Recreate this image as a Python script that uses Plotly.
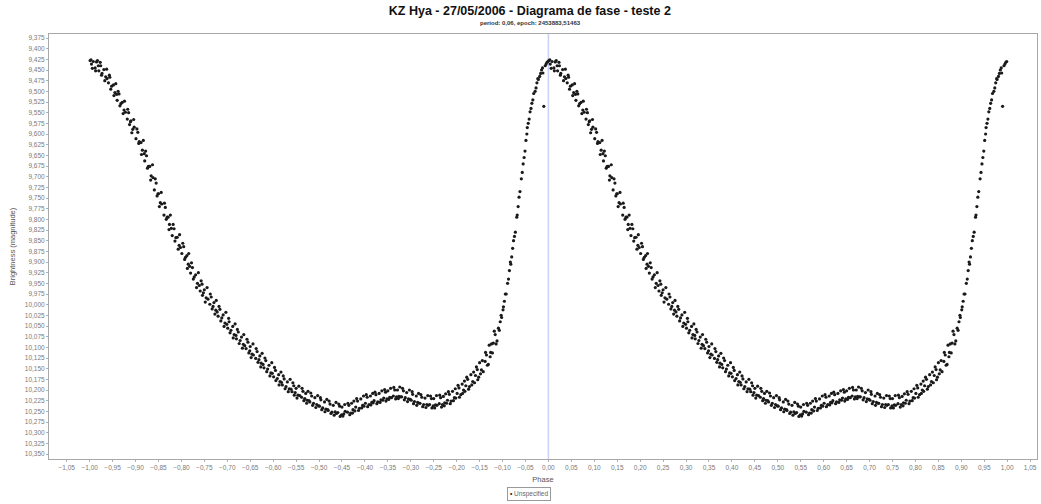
import plotly.graph_objects as go

TITLE = "KZ Hya - 27/05/2006 - Diagrama de fase - teste 2"
SUBTITLE = "period: 0,06, epoch: 2453883,51463"
X_LABEL = "Phase"
Y_LABEL = "Brightness (magnitude)"
SERIES_NAME = "Unspecified"

# one folded cycle (phase 0..1)
PHASE = [
    0.001, 0.004, 0.008, 0.012, 0.015, 0.019, 0.020, 0.024, 0.027, 0.031, 0.035, 0.038, 0.041, 0.044, 0.048,
    0.052, 0.055, 0.059, 0.060, 0.064, 0.068, 0.071, 0.075, 0.078, 0.082, 0.085, 0.089, 0.090, 0.094, 0.097,
    0.101, 0.105, 0.108, 0.112, 0.115, 0.119, 0.120, 0.124, 0.128, 0.131, 0.134, 0.138, 0.141, 0.145, 0.149,
    0.150, 0.154, 0.157, 0.162, 0.165, 0.169, 0.171, 0.174, 0.178, 0.180, 0.184, 0.188, 0.191, 0.195, 0.198,
    0.201, 0.205, 0.209, 0.212, 0.215, 0.218, 0.220, 0.224, 0.228, 0.231, 0.235, 0.239, 0.241, 0.245, 0.248,
    0.250, 0.254, 0.258, 0.262, 0.265, 0.269, 0.271, 0.275, 0.278, 0.280, 0.284, 0.288, 0.291, 0.295, 0.299,
    0.301, 0.304, 0.308, 0.312, 0.315, 0.319, 0.320, 0.324, 0.328, 0.331, 0.335, 0.338, 0.341, 0.345, 0.349,
    0.350, 0.354, 0.357, 0.362, 0.365, 0.369, 0.371, 0.374, 0.378, 0.380, 0.384, 0.388, 0.391, 0.395, 0.398,
    0.401, 0.405, 0.409, 0.412, 0.415, 0.418, 0.420, 0.424, 0.428, 0.431, 0.435, 0.439, 0.441, 0.445, 0.448,
    0.450, 0.454, 0.458, 0.462, 0.465, 0.469, 0.471, 0.474, 0.478, 0.480, 0.484, 0.488, 0.491, 0.495, 0.499,
    0.501, 0.504, 0.508, 0.512, 0.515, 0.519, 0.520, 0.524, 0.528, 0.531, 0.535, 0.538, 0.541, 0.545, 0.549,
    0.550, 0.554, 0.557, 0.562, 0.565, 0.569, 0.571, 0.574, 0.578, 0.580, 0.584, 0.588, 0.591, 0.595, 0.598,
    0.601, 0.605, 0.609, 0.612, 0.615, 0.618, 0.620, 0.624, 0.628, 0.631, 0.635, 0.639, 0.641, 0.645, 0.648,
    0.650, 0.654, 0.658, 0.662, 0.665, 0.669, 0.671, 0.674, 0.678, 0.680, 0.684, 0.688, 0.691, 0.695, 0.699,
    0.701, 0.704, 0.708, 0.712, 0.715, 0.719, 0.720, 0.724, 0.728, 0.731, 0.735, 0.738, 0.741, 0.745, 0.749,
    0.750, 0.754, 0.757, 0.762, 0.765, 0.769, 0.771, 0.774, 0.778, 0.780, 0.784, 0.788, 0.791, 0.795, 0.798,
    0.801, 0.805, 0.809, 0.812, 0.815, 0.818, 0.820, 0.824, 0.828, 0.831, 0.835, 0.839, 0.841, 0.845, 0.848,
    0.850, 0.854, 0.858, 0.862, 0.865, 0.869, 0.871, 0.874, 0.878, 0.880, 0.884, 0.888, 0.891, 0.895, 0.898,
    0.901, 0.904, 0.908, 0.911, 0.915, 0.918, 0.920, 0.924, 0.928, 0.931, 0.934, 0.938, 0.941, 0.945, 0.949,
    0.951, 0.954, 0.958, 0.960, 0.964, 0.968, 0.971, 0.975, 0.978, 0.981, 0.985, 0.988, 0.990, 0.993, 0.997,
]

MAG = [
    9.428, 9.436, 9.430, 9.445, 9.431, 9.440, 9.452, 9.440, 9.458, 9.449, 9.466, 9.470, 9.480, 9.467, 9.488,
    9.485, 9.503, 9.507, 9.521, 9.506, 9.529, 9.526, 9.544, 9.549, 9.565, 9.550, 9.571, 9.569, 9.589, 9.584,
    9.611, 9.596, 9.618, 9.620, 9.638, 9.646, 9.663, 9.651, 9.676, 9.676, 9.698, 9.702, 9.731, 9.715, 9.740,
    9.740, 9.761, 9.764, 9.790, 9.772, 9.795, 9.795, 9.812, 9.821, 9.838, 9.822, 9.843, 9.842, 9.861, 9.866,
    9.880, 9.864, 9.889, 9.885, 9.905, 9.910, 9.926, 9.913, 9.935, 9.930, 9.950, 9.955, 9.968, 9.952, 9.972,
    9.965, 9.984, 9.987, 9.999, 9.982, 10.004, 9.995, 10.013, 10.017, 10.027, 10.011, 10.031, 10.024, 10.043, 10.046,
    10.055, 10.040, 10.060, 10.051, 10.070, 10.072, 10.080, 10.064, 10.084, 10.076, 10.093, 10.096, 10.103, 10.088, 10.108,
    10.098, 10.116, 10.118, 10.126, 10.110, 10.129, 10.120, 10.137, 10.140, 10.148, 10.131, 10.151, 10.142, 10.160, 10.161,
    10.169, 10.154, 10.173, 10.164, 10.180, 10.182, 10.188, 10.174, 10.192, 10.181, 10.197, 10.198, 10.204, 10.190, 10.206,
    10.196, 10.212, 10.213, 10.217, 10.203, 10.220, 10.208, 10.224, 10.225, 10.228, 10.214, 10.231, 10.218, 10.234, 10.237,
    10.238, 10.223, 10.242, 10.228, 10.245, 10.246, 10.248, 10.233, 10.252, 10.236, 10.251, 10.255, 10.253, 10.238, 10.258,
    10.240, 10.256, 10.250, 10.252, 10.236, 10.254, 10.231, 10.246, 10.249, 10.240, 10.226, 10.243, 10.221, 10.236, 10.238,
    10.231, 10.217, 10.234, 10.214, 10.229, 10.230, 10.225, 10.211, 10.228, 10.208, 10.223, 10.224, 10.219, 10.205, 10.221,
    10.202, 10.217, 10.218, 10.214, 10.200, 10.216, 10.200, 10.215, 10.216, 10.216, 10.202, 10.218, 10.206, 10.221, 10.222,
    10.224, 10.210, 10.227, 10.214, 10.229, 10.231, 10.231, 10.217, 10.234, 10.219, 10.234, 10.236, 10.234, 10.220, 10.237,
    10.220, 10.235, 10.236, 10.232, 10.218, 10.234, 10.215, 10.230, 10.231, 10.224, 10.210, 10.226, 10.203, 10.218, 10.219,
    10.208, 10.195, 10.211, 10.186, 10.200, 10.203, 10.190, 10.175, 10.192, 10.164, 10.180, 10.183, 10.166, 10.152, 10.170,
    10.136, 10.153, 10.157, 10.133, 10.118, 10.140, 10.095, 10.112, 10.113, 10.090, 10.070, 10.085, 10.055, 10.040, 10.030,
    10.012, 9.992, 9.975, 9.950, 9.920, 9.905, 9.888, 9.850, 9.830, 9.795, 9.770, 9.735, 9.705, 9.670, 9.640,
    9.615, 9.585, 9.565, 9.548, 9.528, 9.505, 9.500, 9.480, 9.472, 9.465, 9.450, 9.457, 9.535, 9.440, 9.432,
]

# further, noisier observations of the same cycle
PHASE_B = [
    0.003, 0.006, 0.013, 0.017, 0.023, 0.026, 0.033, 0.037, 0.043, 0.046,
    0.053, 0.057, 0.062, 0.066, 0.073, 0.076, 0.083, 0.087, 0.092, 0.096,
    0.103, 0.107, 0.113, 0.117, 0.122, 0.126, 0.133, 0.137, 0.143, 0.147,
    0.152, 0.156, 0.163, 0.167, 0.173, 0.176, 0.182, 0.186, 0.193, 0.196,
    0.203, 0.207, 0.213, 0.216, 0.222, 0.226, 0.233, 0.237, 0.243, 0.246,
    0.252, 0.256, 0.263, 0.267, 0.273, 0.276, 0.282, 0.286, 0.293, 0.297,
    0.303, 0.306, 0.313, 0.317, 0.322, 0.326, 0.333, 0.336, 0.343, 0.347,
    0.352, 0.356, 0.363, 0.367, 0.373, 0.376, 0.382, 0.386, 0.393, 0.397,
    0.403, 0.406, 0.413, 0.417, 0.422, 0.426, 0.433, 0.437, 0.443, 0.446,
    0.452, 0.456, 0.463, 0.467, 0.473, 0.476, 0.482, 0.486, 0.493, 0.497,
    0.503, 0.506, 0.513, 0.517, 0.522, 0.526, 0.533, 0.537, 0.543, 0.546,
    0.552, 0.556, 0.563, 0.567, 0.573, 0.576, 0.582, 0.586, 0.593, 0.597,
    0.603, 0.606, 0.613, 0.617, 0.622, 0.626, 0.633, 0.637, 0.643, 0.646,
    0.652, 0.656, 0.663, 0.667, 0.673, 0.676, 0.682, 0.686, 0.693, 0.697,
    0.703, 0.706, 0.713, 0.717, 0.722, 0.726, 0.733, 0.737, 0.743, 0.746,
    0.752, 0.756, 0.763, 0.767, 0.773, 0.776, 0.782, 0.786, 0.793, 0.797,
    0.803, 0.806, 0.813, 0.817, 0.822, 0.826, 0.833, 0.837, 0.843, 0.846,
    0.852, 0.856, 0.863, 0.867, 0.873, 0.876, 0.882, 0.886, 0.893, 0.897,
    0.902, 0.906, 0.913, 0.917, 0.922, 0.926, 0.932, 0.936, 0.943, 0.947,
    0.953, 0.956, 0.962, 0.966, 0.973, 0.977, 0.983, 0.987, 0.995, 0.999,
]

MAG_B = [
    9.426, 9.446, 9.452, 9.428, 9.432, 9.462, 9.475, 9.448, 9.462, 9.495,
    9.510, 9.482, 9.500, 9.534, 9.552, 9.523, 9.542, 9.578, 9.597, 9.566,
    9.588, 9.622, 9.648, 9.615, 9.640, 9.680, 9.708, 9.672, 9.705, 9.745,
    9.770, 9.737, 9.762, 9.800, 9.824, 9.790, 9.812, 9.851, 9.870, 9.836,
    9.856, 9.894, 9.915, 9.880, 9.902, 9.940, 9.960, 9.925, 9.944, 9.978,
    9.994, 9.960, 9.975, 10.010, 10.022, 9.990, 10.004, 10.038, 10.051, 10.018,
    10.032, 10.066, 10.078, 10.045, 10.058, 10.091, 10.102, 10.070, 10.081, 10.113,
    10.124, 10.092, 10.103, 10.135, 10.146, 10.114, 10.125, 10.157, 10.167, 10.136,
    10.147, 10.178, 10.188, 10.158, 10.167, 10.197, 10.204, 10.175, 10.183, 10.212,
    10.219, 10.191, 10.196, 10.225, 10.231, 10.203, 10.207, 10.236, 10.241, 10.213,
    10.218, 10.246, 10.251, 10.222, 10.226, 10.255, 10.259, 10.229, 10.233, 10.262,
    10.261, 10.234, 10.231, 10.258, 10.254, 10.226, 10.220, 10.248, 10.242, 10.214,
    10.211, 10.239, 10.235, 10.208, 10.205, 10.232, 10.229, 10.202, 10.199, 10.226,
    10.222, 10.196, 10.194, 10.221, 10.220, 10.193, 10.196, 10.223, 10.227, 10.200,
    10.204, 10.232, 10.236, 10.208, 10.211, 10.239, 10.241, 10.213, 10.214, 10.242,
    10.242, 10.213, 10.212, 10.240, 10.237, 10.209, 10.204, 10.232, 10.225, 10.197,
    10.189, 10.217, 10.208, 10.179, 10.170, 10.198, 10.188, 10.158, 10.146, 10.176,
    10.162, 10.131, 10.112, 10.142, 10.122, 10.092, 10.062, 10.092, 10.060, 10.025,
    10.005, 9.975, 9.940, 9.900, 9.868, 9.840, 9.790, 9.748, 9.690, 9.655,
    9.600, 9.575, 9.540, 9.520, 9.492, 9.470, 9.458, 9.445, 9.436, 9.430,
]

# phase diagram shows the folded cycle twice: phase-1 and phase
phase_one = list(PHASE) + list(PHASE_B)
mag_one = list(MAG) + list(MAG_B)
x_all = [p - 1.0 for p in phase_one] + phase_one
y_all = mag_one + mag_one

FONT = "Liberation Sans, Arial, sans-serif"
TICK_FONT = dict(family=FONT, size=6.5, color="#7a7a7a")

fig = go.Figure()
fig.add_trace(go.Scatter(
    x=x_all, y=y_all, mode="markers", name=SERIES_NAME,
    marker=dict(size=3.2, color="#1a1a1a", line=dict(width=0)),
    showlegend=False,
))

fig.add_shape(type="line", xref="x", yref="paper", x0=0, x1=0, y0=0, y1=1,
              line=dict(color="#c9d1f4", width=1.5), layer="below")

fig.update_layout(
    width=1041, height=504,
    margin=dict(l=49, r=4, t=34, b=45, autoexpand=False),
    paper_bgcolor="white", plot_bgcolor="white",
    separators=",.",
    showlegend=False,
    title=dict(text="<b>" + TITLE + "</b>", xref="container", x=0.509, xanchor="center",
               yref="container", y=0.979, yanchor="middle",
               font=dict(family=FONT, size=12.5, color="#111")),
    annotations=[
        dict(text="<b>" + SUBTITLE + "</b>", xref="paper", yref="paper",
             x=0.487, y=1.027, xanchor="center", yanchor="middle", showarrow=False,
             font=dict(family=FONT, size=6, color="#333")),
        dict(text="<span style='color:#111'>\u2022</span> " + SERIES_NAME, xref="paper", yref="paper",
             x=0.486, y=-0.082, xanchor="center", yanchor="middle", showarrow=False,
             bordercolor="#9a9a9a", borderwidth=1, borderpad=2, bgcolor="white",
             font=dict(family=FONT, size=6.5, color="#666")),
    ],
    xaxis=dict(range=[-1.0886, 1.065], tick0=-1.05, dtick=0.05, tickformat=".2f",
               showgrid=False, zeroline=False, showline=True, mirror=True, automargin=False,
               linecolor="#a8a8a8", linewidth=1, ticks="outside", ticklen=2, tickcolor="#b0b0b0",
               tickfont=TICK_FONT,
               title=dict(text=X_LABEL, standoff=6,
                          font=dict(family=FONT, size=7.5, color="#555"))),
    yaxis=dict(range=[10.3617, 9.3656], tick0=9.375, dtick=0.025, tickformat=".3f",
               showgrid=False, zeroline=False, showline=True, mirror=True, automargin=False,
               linecolor="#a8a8a8", linewidth=1, ticks="outside", ticklen=2, tickcolor="#b0b0b0",
               tickfont=TICK_FONT,
               title=dict(text=Y_LABEL, standoff=8,
                          font=dict(family=FONT, size=7.5, color="#555"))),
)

fig.write_html("out.html")
